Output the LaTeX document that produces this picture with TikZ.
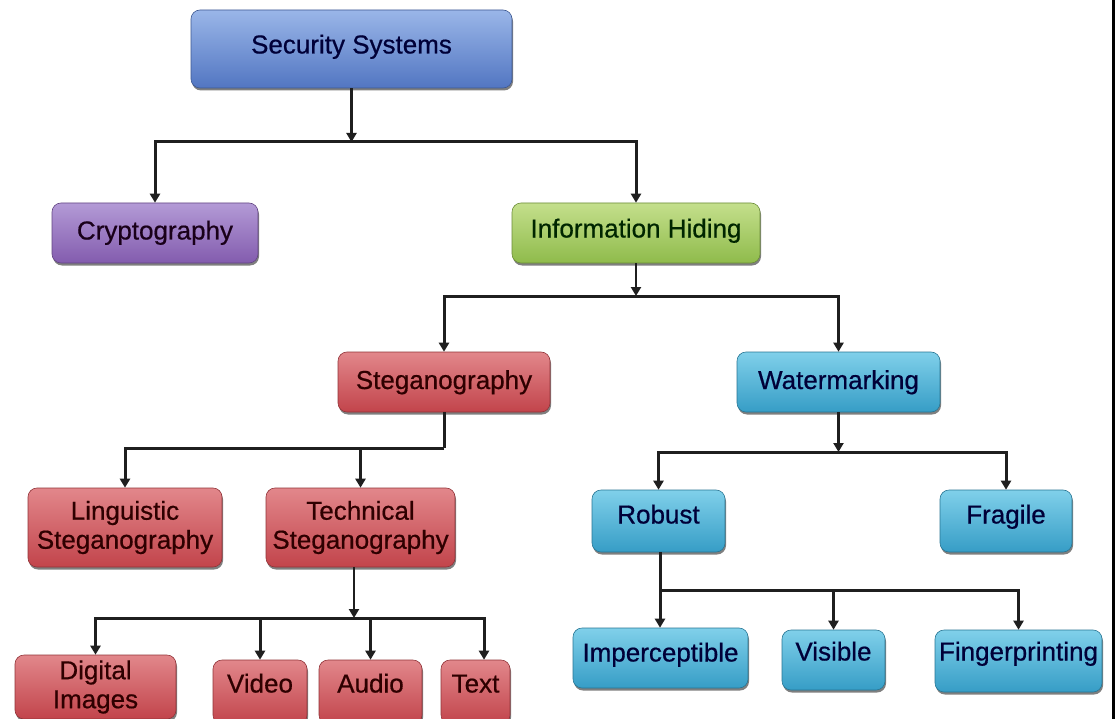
\documentclass[tikz,border=0pt]{standalone}
\usepackage{fontspec}
\setmainfont{Liberation Sans}
\newfontfamily\boxfont[FakeBold=0.6]{Liberation Sans}
\usetikzlibrary{arrows.meta,shadows}
\definecolor{bluetop}{HTML}{9AB6E8}
\definecolor{bluebot}{HTML}{5276C2}
\definecolor{purtop}{HTML}{B39AD6}
\definecolor{purbot}{HTML}{835CAE}
\definecolor{grntop}{HTML}{C4DF8C}
\definecolor{grnbot}{HTML}{8FBB4B}
\definecolor{redtop}{HTML}{E2878B}
\definecolor{redbot}{HTML}{C2444B}
\definecolor{cyntop}{HTML}{80D0EA}
\definecolor{cynbot}{HTML}{369DC6}
\begin{document}
\begin{tikzpicture}[x=1pt,y=-1pt,
  box/.style={rectangle, rounded corners=9pt, minimum height=60pt, inner sep=0pt,
    align=center, font=\boxfont\fontsize{26}{29}\selectfont, line width=0.6pt,
    drop shadow={shadow xshift=1pt, shadow yshift=-2.5pt, opacity=0.5, fill=black}},
  up/.style={text height=19pt, text depth=#1},
  bluebox/.style={box, top color=bluetop, bottom color=bluebot, draw=bluebot!75!black, text=black!78!blue},
  purbox/.style={box, top color=purtop, bottom color=purbot, draw=purbot!75!black, text=black!80!violet},
  grnbox/.style={box, top color=grntop, bottom color=grnbot, draw=grnbot!75!black, text=black!85!green},
  redbox/.style={box, top color=redtop, bottom color=redbot, draw=redbot!75!black, text=black!82!red},
  cynbox/.style={box, top color=cyntop, bottom color=cynbot, draw=cynbot!75!black, text=black!78!blue},
  conn/.style={draw=black!88, line width=3pt},
  arr/.style={conn, -{Triangle[length=9pt,width=10pt]}},
  stemarr/.style={draw=black!88, line width=2.2pt, -{Triangle[length=9pt,width=10pt]}}
]
\useasboundingbox (0,0) rectangle (1115,719);
\fill[white] (0,0) rectangle (1115,719);
\fill[black] (1112,0) rectangle (1115,719);

% nodes
\node[bluebox, up=10pt, minimum width=321pt, minimum height=78pt] (sec) at (351.5,49) {Security Systems};
\node[purbox, up=6pt, minimum width=206pt] (cry) at (155,233) {Cryptography};
\node[grnbox, up=10pt, minimum width=248pt] (ih) at (636,233) {Information Hiding};
\node[redbox, up=5pt, minimum width=212pt] (steg) at (444,382) {Steganography};
\node[cynbox, up=5pt, minimum width=203pt] (wm) at (838.5,382) {Watermarking};
\node[redbox, minimum width=194pt, minimum height=79pt] (ling) at (125,527.5) {Linguistic\\Steganography};
\node[redbox, minimum width=189pt, minimum height=79pt] (tech) at (360.5,527.5) {Technical\\Steganography};
\node[redbox, minimum width=161pt, minimum height=64pt] (dig) at (95.5,687) {Digital\\Images};
\node[redbox, up=18pt, minimum width=94pt, minimum height=64pt] (vid) at (260,692) {Video};
\node[redbox, up=18pt, minimum width=103pt, minimum height=64pt] (aud) at (370.5,692) {Audio};
\node[redbox, up=18pt, minimum width=69pt, minimum height=64pt] (txt) at (475.5,692) {Text};
\node[cynbox, up=14pt, minimum width=133pt, minimum height=62pt] (rob) at (658.5,521) {Robust};
\node[cynbox, up=14pt, minimum width=132pt, minimum height=62pt] (fra) at (1006,521) {Fragile};
\node[cynbox, up=12pt, minimum width=175pt] (imp) at (660.5,658) {Imperceptible};
\node[cynbox, up=18pt, minimum width=103pt] (vis) at (833.5,660) {Visible};
\node[cynbox, up=20pt, minimum width=167pt, minimum height=62pt] (fin) at (1018.5,661) {Fingerprinting};

% connectors
\coordinate (j1) at (351.5,142);
\draw[stemarr] (sec.south) -- (j1);
\draw[arr] (j1) -| (cry.north);
\draw[arr] (j1) -| (ih.north);

\coordinate (j2) at (636,296);
\draw[stemarr] (ih.south) -- (j2);
\draw[arr] (j2) -| (steg.north);
\draw[arr] (j2) -| (wm.north);

\coordinate (j3) at (444,448);
\draw[conn] (steg.south) -- (j3);
\draw[arr] (j3) -| (ling.north);
\draw[arr] (j3) -| (tech.north);

\coordinate (j4) at (838.5,452);
\draw[stemarr] (wm.south) -- (j4);
\draw[arr] (j4) -| (rob.north);
\draw[arr] (j4) -| (fra.north);

\coordinate (j5) at (354,618);
\coordinate (k5) at (484,618);
\draw[stemarr] (j5 |- tech.south) -- (j5);
\draw[arr] (j5) -| (dig.north);
\draw[arr] (j5) -| (vid.north);
\draw[arr] (j5) -| (aud.north);
\draw[arr] (j5) -- (k5) -- (k5 |- txt.north);

\coordinate (j6) at (660,590);
\draw[conn] (j6 |- rob.south) -- (j6);
\draw[arr] (j6) -- (j6 |- imp.north);
\draw[arr] (j6) -| (vis.north);
\draw[arr] (j6) -| (fin.north);
\end{tikzpicture}
\end{document}
